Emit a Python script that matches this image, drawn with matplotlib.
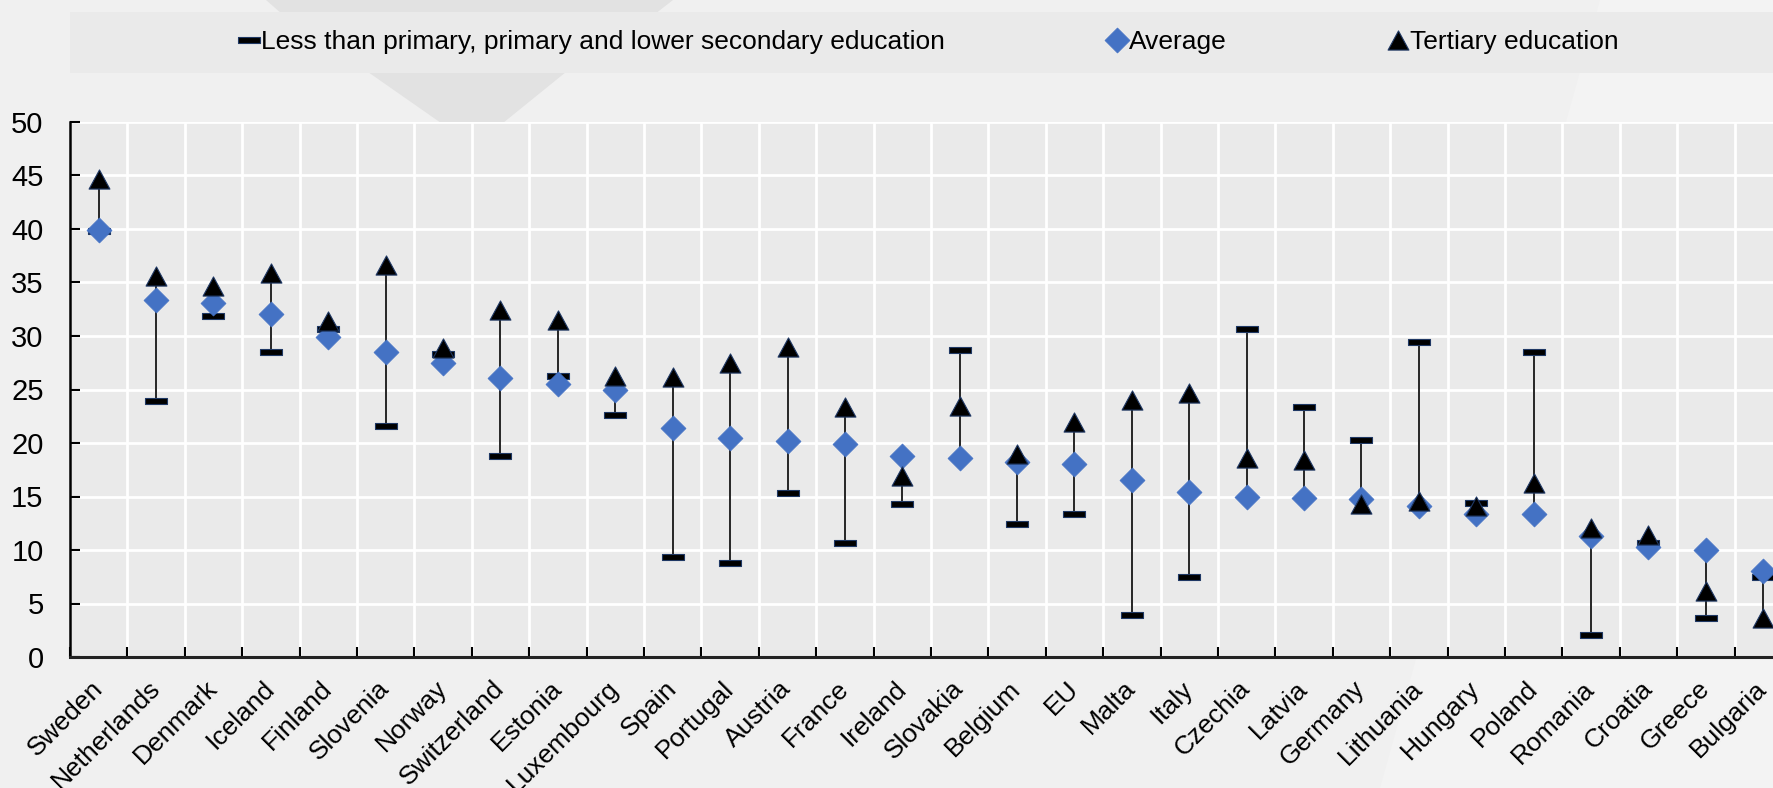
import numpy as np
import matplotlib.pyplot as plt
from matplotlib.path import Path
from matplotlib.patches import Rectangle, Polygon
from matplotlib.lines import Line2D
import matplotlib.transforms as mtransforms


countries = ["Sweden", "Netherlands", "Denmark", "Iceland", "Finland", "Slovenia",
             "Norway", "Switzerland", "Estonia", "Luxembourg", "Spain", "Portugal",
             "Austria", "France", "Ireland", "Slovakia", "Belgium", "EU", "Malta",
             "Italy", "Czechia", "Latvia", "Germany", "Lithuania", "Hungary",
             "Poland", "Romania", "Croatia", "Greece", "Bulgaria"]

low_edu = [39.8, 23.9, 31.9, 28.5, 30.7, 21.6, 28.3, 18.8, 26.3, 22.6, 9.3, 8.8,
           15.3, 10.7, 14.3, 28.7, 12.4, 13.4, 3.9, 7.5, 30.7, 23.4, 20.3, 29.4,
           14.4, 28.5, 2.1, 10.7, 3.6, 7.5]
average = [39.9, 33.4, 33.1, 32.1, 29.9, 28.5, 27.5, 26.1, 25.5, 25.0, 21.4, 20.5,
           20.2, 19.9, 18.8, 18.6, 18.2, 18.0, 16.5, 15.4, 15.0, 14.9, 14.8, 14.1,
           13.4, 13.4, 11.3, 10.3, 10.0, 8.0]
tertiary = [44.7, 35.6, 34.7, 35.9, 31.4, 36.6, 28.9, 32.4, 31.5, 26.3, 26.2, 27.5,
            29.0, 23.4, 16.9, 23.5, 19.0, 22.0, 24.0, 24.7, 18.6, 18.4, 14.3, 14.6,
            14.1, 16.3, 12.1, 11.4, 6.2, 3.6]

yticks = list(range(0, 55, 5))

W, H = 1774, 788
plt.rcParams['font.family'] = ['Liberation Sans', 'DejaVu Sans']

fig = plt.figure(figsize=(W / 100, H / 100), dpi=100)
fig.patch.set_facecolor('#f0f0f0')


def fx(px):
    return px / W


def fy(py):
    return 1 - py / H


# faint background shapes
for pts, col in [([(1600, 0), (1774, 0), (1774, 788), (1380, 788)], '#f3f3f3'),
                 ([(266, 0), (673, 0), (655, 14), (282, 14)], '#e2e2e2'),
                 ([(368, 72), (566, 72), (503, 123), (441, 123)], '#e2e2e2')]:
    fig.patches.append(Polygon([(fx(a), fy(b)) for a, b in pts], closed=True,
                               transform=fig.transFigure, facecolor=col,
                               edgecolor='none', zorder=-3))
# legend band
fig.patches.append(Rectangle((fx(70), fy(73)), 1 - fx(70), (73 - 12) / H,
                             transform=fig.transFigure, facecolor='#eaeaea',
                             edgecolor='none', zorder=-2))

step = 57.4
ax = fig.add_axes([fx(70), fy(657), 30 * step / W, (657 - 122) / H])
ax.set_facecolor('#eaeaea')

x = np.arange(len(countries))
lo = np.minimum(np.minimum(low_edu, average), tertiary)
hi = np.maximum(np.maximum(low_edu, average), tertiary)

dash = Path([(-1, -0.22), (1, -0.22), (1, 0.22), (-1, 0.22), (-1, -0.22)],
            [Path.MOVETO, Path.LINETO, Path.LINETO, Path.LINETO, Path.CLOSEPOLY])
diamond = Path([(0, 1), (1, 0), (0, -1), (-1, 0), (0, 1)],
               [Path.MOVETO, Path.LINETO, Path.LINETO, Path.LINETO, Path.CLOSEPOLY])
tri = Path([(-1, -0.92), (1, -0.92), (0, 0.92), (-1, -0.92)],
           [Path.MOVETO, Path.LINETO, Path.LINETO, Path.CLOSEPOLY])

dash_kw = dict(ls='none', marker=dash, ms=16.5, mfc='black', mec='#1f3864', mew=0.8)
diam_kw = dict(ls='none', marker=diamond, ms=18, mfc='#4472c4', mec='#4472c4', mew=0.5)
tri_kw = dict(ls='none', marker=tri, ms=15, mfc='black', mec='#1f3864', mew=0.8)

ax.vlines(x, lo, hi, color='#262626', lw=1.4, zorder=2)
ax.plot(x, low_edu, zorder=3, **dash_kw)
ax.plot(x, average, zorder=4, **diam_kw)
ax.plot(x, tertiary, zorder=5, **tri_kw)

ax.set_xlim(-0.5, len(countries) - 0.5)
ax.set_ylim(0, 50)
ax.set_yticks(yticks)
ax.set_xticks(x)
ax.set_xticks(np.arange(-0.5, len(countries), 1.0), minor=True)
ax.set_xticklabels(countries, rotation=45, ha='right', va='center',
                   rotation_mode='anchor', fontsize=19)
offset = mtransforms.ScaledTranslation(12 / 100, -6 / 100, fig.dpi_scale_trans)
for lab in ax.get_xticklabels():
    lab.set_transform(lab.get_transform() + offset)

ax.tick_params(axis='x', which='major', length=0, pad=20)
ax.tick_params(axis='x', which='minor', direction='in', length=7, width=1.5,
               color='black')
ax.tick_params(axis='y', direction='in', length=7, width=1.5, labelsize=21, pad=19)

ax.grid(axis='y', color='white', lw=2)
ax.grid(axis='x', which='minor', color='white', lw=2)
ax.set_axisbelow(True)

for s in ['top', 'right']:
    ax.spines[s].set_visible(False)
ax.spines['left'].set_linewidth(1.8)
ax.spines['bottom'].set_linewidth(2.2)
ax.spines['bottom'].set_color('#222222')

handles = [Line2D([], [], **dash_kw), Line2D([], [], **diam_kw), Line2D([], [], **tri_kw)]
labels = ['Less than primary, primary and lower secondary education', 'Average',
          'Tertiary education']
fig.legend(handles, labels, loc='center', bbox_to_anchor=(fx(930), fy(42)),
           ncol=3, frameon=False, fontsize=19, handlelength=0.6, handletextpad=0.15,
           columnspacing=6.2, borderaxespad=0)

fig.savefig('out.png', dpi=100, facecolor=fig.get_facecolor())
